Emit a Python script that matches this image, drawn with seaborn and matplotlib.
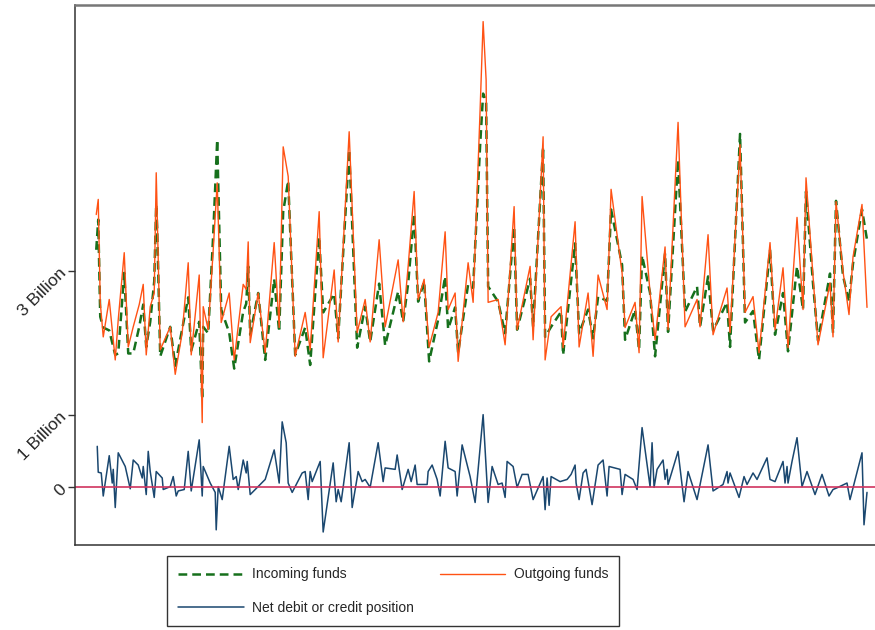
import matplotlib
matplotlib.use("Agg")
import matplotlib.pyplot as plt
import seaborn as sns

sns.set_style("ticks")
plt.rcParams['font.family'] = ['Liberation Sans', 'DejaVu Sans']

# observation index for the two funds series
flow_obs = [1, 3, 5, 8, 14, 20, 23, 29, 33, 38,
            44, 48, 51, 55, 59, 61, 62, 65, 75, 80,
            87, 93, 96, 104, 107, 108, 113, 118, 122, 126,
            134, 139, 148, 151, 153, 155, 163, 170, 179, 184,
            188, 193, 200, 210, 215, 224, 228, 239, 243, 254,
            262, 270, 275, 284, 290, 303, 308, 313, 319, 323,
            329, 334, 343, 350, 353, 360, 363, 373, 378, 385,
            388, 391, 393, 403, 410, 419, 422, 435, 438, 448,
            450, 456, 466, 468, 480, 484, 493, 498, 503, 512,
            516, 527, 530, 540, 544, 547, 555, 560, 570, 573,
            583, 590, 602, 605, 613, 618, 632, 635, 645, 650,
            658, 664, 675, 680, 688, 693, 702, 708, 711, 718,
            723, 735, 738, 741, 748, 754, 758, 767, 772]

# billions
outgoing = [3.78, 3.99, 2.56, 2.08, 2.60, 1.76, 2.32, 3.25, 1.94, 2.22,
            2.53, 2.81, 1.83, 2.50, 2.69, 4.36, 3.78, 1.90, 2.22, 1.56,
            2.14, 3.11, 1.83, 2.94, 0.89, 2.50, 2.18, 3.29, 4.22, 2.28,
            2.69, 1.76, 2.81, 2.74, 3.40, 2.00, 2.69, 1.86, 3.39, 2.21,
            4.72, 4.31, 1.81, 2.42, 1.90, 3.82, 1.79, 3.01, 2.01, 4.93,
            2.14, 2.60, 2.01, 3.43, 2.22, 3.15, 2.29, 3.06, 4.10, 2.60,
            2.88, 1.94, 2.42, 3.54, 2.46, 2.69, 1.74, 3.11, 2.56, 5.24,
            6.46, 5.65, 2.56, 2.60, 1.97, 3.89, 2.18, 3.06, 2.04, 4.86,
            1.76, 2.36, 2.50, 1.93, 3.68, 1.94, 2.69, 1.81, 2.94, 2.46,
            4.13, 2.97, 2.21, 2.56, 1.86, 4.03, 2.69, 2.04, 3.33, 2.18,
            5.06, 2.22, 2.60, 2.22, 3.50, 2.11, 2.76, 2.14, 4.75, 2.42,
            2.64, 1.86, 3.39, 2.18, 3.04, 1.93, 3.74, 2.46, 4.29, 2.92,
            1.97, 2.83, 2.08, 3.96, 2.99, 2.39, 3.19, 3.92, 2.49]

incoming = [3.29, 3.71, 2.36, 2.21, 2.17, 1.83, 1.85, 2.97, 1.85, 1.85,
            2.22, 2.53, 1.94, 2.29, 2.85, 3.92, 3.57, 1.81, 2.22, 1.68,
            2.19, 2.63, 1.89, 2.29, 1.21, 2.22, 2.13, 3.50, 4.82, 2.46,
            2.14, 1.64, 2.43, 2.54, 3.06, 2.11, 2.69, 1.76, 2.88, 2.15,
            3.82, 4.25, 1.83, 2.21, 1.69, 3.47, 2.42, 2.68, 2.06, 4.68,
            1.93, 2.50, 2.01, 2.82, 1.96, 2.71, 2.29, 2.82, 3.79, 2.57,
            2.85, 1.74, 2.32, 2.92, 2.19, 2.49, 1.86, 2.81, 2.76, 4.74,
            5.46, 5.35, 2.78, 2.57, 2.13, 3.61, 2.18, 2.89, 2.22, 4.72,
            2.08, 2.22, 2.43, 1.83, 3.38, 2.13, 2.46, 2.06, 2.64, 2.58,
            3.85, 3.08, 2.04, 2.46, 1.90, 3.21, 2.69, 1.81, 3.24, 2.15,
            4.54, 2.43, 2.78, 2.22, 2.92, 2.17, 2.56, 1.94, 4.90, 2.28,
            2.44, 1.76, 3.29, 2.11, 2.69, 1.88, 3.06, 2.46, 4.10, 2.82,
            2.03, 2.96, 2.13, 3.97, 2.93, 2.57, 3.10, 3.85, 3.43]

net_obs = [2, 3, 6, 8, 14, 17, 18, 20, 23, 30,
           35, 38, 43, 47, 48, 51, 53, 55, 59, 61,
           67, 68, 75, 78, 81, 83, 89, 93, 96, 104,
           107, 108, 115, 120, 121, 123, 127, 134, 138, 141,
           143, 148, 151, 152, 155, 160, 170, 179, 184, 187,
           191, 193, 197, 207, 210, 213, 215, 217, 225, 228,
           238, 241, 243, 246, 254, 257, 263, 267, 270, 275,
           283, 288, 290, 300, 302, 307, 313, 316, 320, 322,
           332, 333, 337, 342, 345, 350, 353, 360, 362, 367,
           375, 380, 388, 393, 397, 403, 407, 410, 412, 418,
           422, 427, 433, 438, 448, 450, 452, 454, 456, 465,
           472, 476, 480, 481, 484, 488, 491, 497, 503, 508,
           512, 514, 525, 527, 530, 538, 542, 547, 555, 557,
           559, 562, 568, 570, 572, 573, 583, 589, 593, 602,
           613, 618, 628, 632, 633, 635, 644, 649, 652, 658,
           662, 672, 675, 680, 688, 690, 692, 693, 697, 702,
           707, 712, 720, 727, 734, 738, 743, 752, 755, 767,
           769, 772]

net_position = [0.56, 0.20, 0.19, -0.13, 0.43, 0.05, 0.24, -0.29, 0.47, 0.28,
                -0.03, 0.37, 0.30, 0.12, 0.28, -0.11, 0.49, 0.21, -0.15, 0.21,
                0.12, -0.04, 0.00, 0.14, -0.13, -0.06, -0.04, 0.49, -0.06, 0.65,
                -0.13, 0.28, 0.05, -0.08, -0.60, 0.00, -0.18, 0.56, 0.10, 0.14,
                -0.04, 0.37, 0.19, 0.35, -0.11, -0.04, 0.10, 0.51, 0.05, 0.90,
                0.61, 0.05, -0.08, 0.19, 0.21, -0.18, 0.21, 0.07, 0.35, -0.63,
                0.33, -0.21, -0.04, -0.21, 0.61, -0.29, 0.21, 0.07, 0.10, -0.01,
                0.61, 0.07, 0.26, 0.24, 0.44, -0.04, 0.24, 0.07, 0.30, 0.03,
                0.03, 0.21, 0.30, 0.10, -0.13, 0.63, 0.26, 0.21, -0.13, 0.58,
                0.14, -0.22, 1.00, -0.22, 0.28, 0.03, 0.05, -0.15, 0.35, 0.28,
                -0.01, 0.17, 0.17, -0.18, 0.14, -0.32, 0.12, -0.26, 0.14, 0.07,
                0.10, 0.17, 0.30, 0.05, -0.18, 0.19, 0.24, -0.25, 0.30, 0.37,
                -0.13, 0.28, 0.24, -0.11, 0.17, 0.10, -0.04, 0.82, 0.00, 0.61,
                -0.01, 0.24, 0.37, 0.10, 0.24, 0.03, 0.49, -0.21, 0.21, -0.18,
                0.58, -0.06, 0.03, 0.21, 0.05, 0.19, -0.15, 0.14, 0.03, 0.19,
                0.10, 0.40, 0.10, 0.07, 0.35, 0.05, 0.28, 0.05, 0.35, 0.68,
                0.00, 0.21, -0.11, 0.17, -0.13, -0.04, -0.01, 0.05, -0.18, 0.47,
                -0.53, -0.08]

ytick_vals = [0, 1, 3]
ytick_labels = ["0", "1 Billion", "3 Billion"]

fig = plt.figure(figsize=(8.75, 6.3), dpi=100)
ax = fig.add_axes([0.086, 0.135, 0.914, 0.857])

sns.lineplot(x=flow_obs, y=incoming, ax=ax, color="#16701c", linewidth=1.8)
sns.lineplot(x=flow_obs, y=outgoing, ax=ax, color="#ff5214", linewidth=1.0)
sns.lineplot(x=net_obs, y=net_position, ax=ax, color="#1a476f", linewidth=1.1)
ax.axhline(0, color="#d0345f", linewidth=1.2)

line_in, line_out, line_net = ax.lines[0], ax.lines[1], ax.lines[2]
line_in.set_dashes([3.5, 2])

ax.set_xlim(-20, 780)
ax.set_ylim(-0.81, 6.69)
ax.set_xticks([])
ax.set_yticks(ytick_vals)
ax.set_yticklabels(ytick_labels, rotation=45, ha="right", va="center",
                   rotation_mode="anchor", fontsize=12.5)
ax.tick_params(axis="y", length=5, width=1, color="#333333", pad=3)
ax.set_xlabel("")
ax.set_ylabel("")
ax.spines["right"].set_visible(False)
for side in ["left", "bottom"]:
    ax.spines[side].set_color("#333333")
    ax.spines[side].set_linewidth(1.1)
ax.spines["top"].set_color("#777777")
ax.spines["top"].set_linewidth(1.8)

leg = fig.legend([line_in, line_net, line_out],
                 ["Incoming funds", "Net debit or credit position", "Outgoing funds"],
                 loc="upper left", bbox_to_anchor=(0.191, 0.117), borderaxespad=0,
                 ncol=2, frameon=True, fancybox=False, edgecolor="black", fontsize=10,
                 handlelength=4.7, handletextpad=0.6, columnspacing=1.9,
                 labelspacing=1.42, borderpad=0.8)
leg.get_frame().set_linewidth(1.0)

fig.savefig("out.png", dpi=100)
